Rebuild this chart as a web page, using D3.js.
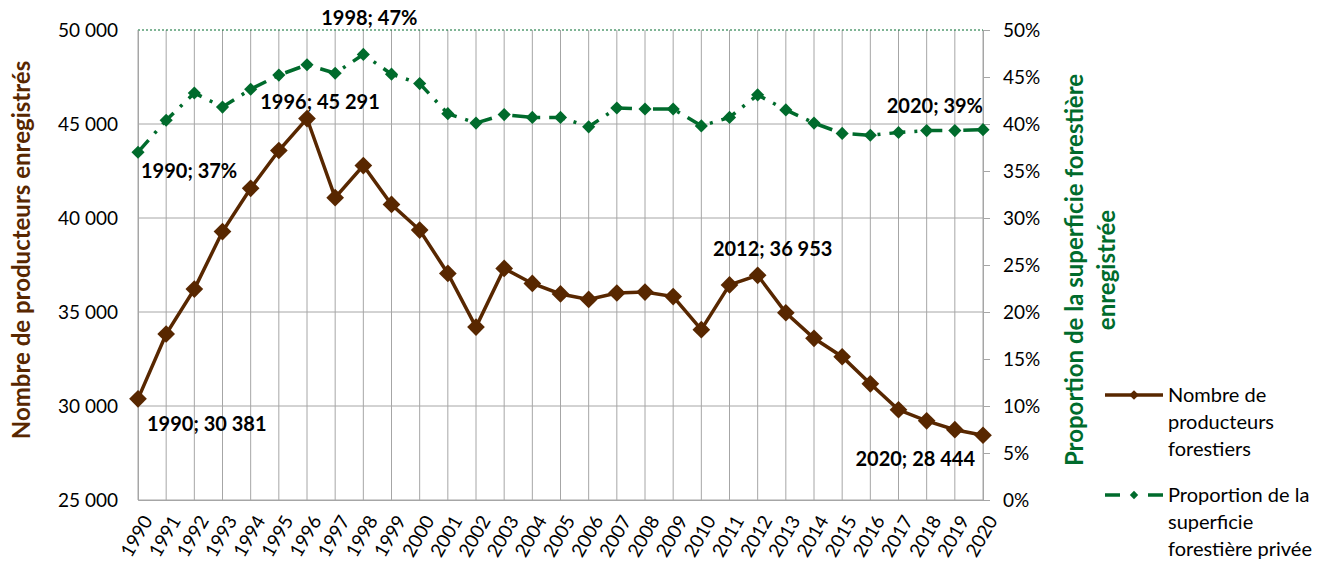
<!DOCTYPE html>
<html>
<head>
<meta charset="utf-8">
<script src="https://cdn.jsdelivr.net/npm/d3@7"></script>
<style>
  body { margin: 0; background: #fff; }
  text { font-family: Lato, "Open Sans", sans-serif; }
</style>
</head>
<body>
<script>
(function(d3) {

  // Years on the x axis
  var years = d3.range(1990, 2021);

  // Nombre de producteurs forestiers (left axis)
  var producteurs = [30381, 33830, 36220, 39280, 41580, 43590, 45291, 41080, 42790, 40720,
    39360, 37050, 34200, 37320, 36520, 35960, 35670, 36010, 36060, 35820,
    34060, 36440, 36953, 34960, 33600, 32620, 31180, 29800, 29210, 28740, 28444];

  // Proportion de la superficie forestiere privee (right axis, %)
  var proportion = [37.0, 40.4, 43.3, 41.8, 43.7, 45.2, 46.3, 45.4, 47.4, 45.3,
    44.3, 41.1, 40.1, 41.0, 40.7, 40.7, 39.7, 41.7, 41.6, 41.6,
    39.8, 40.7, 43.1, 41.5, 40.1, 39.0, 38.8, 39.1, 39.3, 39.3, 39.4];

  var leftTicks = [25000, 30000, 35000, 40000, 45000, 50000];
  var rightTicks = d3.range(0, 51, 5);

  // Data labels: which series, which year, where to put the text
  var labels = [
    {series: 'p', year: 1990, dx: 9, dy: 32, anchor: 'start'},
    {series: 'p', year: 1996, dx: 13, dy: -10, anchor: 'middle'},
    {series: 'p', year: 2012, dx: 15, dy: -19, anchor: 'middle'},
    {series: 'p', year: 2020, dx: -8, dy: 31, anchor: 'end'},
    {series: 's', year: 1990, dx: 3, dy: 26, anchor: 'start'},
    {series: 's', year: 1998, dx: 6, dy: -29, anchor: 'middle'},
    {series: 's', year: 2020, dx: 0, dy: -17, anchor: 'end'}
  ];

  var brown = '#582700', green = '#006b2c', grid = '#a6a6a6';

  var width = 1334, height = 567;
  var m = {left: 138, right: 983, top: 30, bottom: 500};

  var fr = d3.formatLocale({decimal: ',', thousands: '\u00a0', grouping: [3], currency: ['', '$']});
  var fmt = fr.format(',d');

  var svg = d3.select('body').append('svg')
    .attr('width', width)
    .attr('height', height);

  var x = d3.scaleLinear().domain([1990, 2020]).range([m.left, m.right]);
  var yL = d3.scaleLinear().domain([25000, 50000]).range([m.bottom, m.top]);
  var yR = d3.scaleLinear().domain([0, 50]).range([m.bottom, m.top]);

  // Gridlines
  svg.append('g').selectAll('line').data(years).enter().append('line')
    .attr('x1', function(d) { return x(d); })
    .attr('x2', function(d) { return x(d); })
    .attr('y1', m.top).attr('y2', m.bottom)
    .attr('stroke', grid).attr('stroke-width', 1);

  svg.append('g').selectAll('line').data(leftTicks.slice(0, -1)).enter().append('line')
    .attr('x1', m.left).attr('x2', m.right)
    .attr('y1', function(d) { return yL(d); })
    .attr('y2', function(d) { return yL(d); })
    .attr('stroke', grid).attr('stroke-width', 1);

  // top border, dotted green
  svg.append('line')
    .attr('x1', m.left).attr('x2', m.right)
    .attr('y1', m.top).attr('y2', m.top)
    .attr('stroke', green).attr('stroke-width', 1)
    .attr('stroke-dasharray', '2,2');

  // Left axis
  var axL = svg.append('g')
    .attr('transform', 'translate(' + m.left + ',0)')
    .call(d3.axisLeft(yL).tickValues(leftTicks).tickSize(0).tickPadding(20).tickFormat(fmt));
  axL.select('.domain').attr('stroke', grid);
  axL.selectAll('text').attr('font-size', 19).attr('fill', '#000');

  // Right axis
  var axR = svg.append('g')
    .attr('transform', 'translate(' + m.right + ',0)')
    .call(d3.axisRight(yR).tickValues(rightTicks).tickSize(7).tickPadding(13)
      .tickFormat(function(d) { return d + '%'; }));
  axR.select('.domain').attr('stroke', grid);
  axR.selectAll('line').attr('stroke', grid);
  axR.selectAll('text').attr('font-size', 19).attr('fill', '#000');

  // Bottom axis
  var axB = svg.append('g')
    .attr('transform', 'translate(0,' + m.bottom + ')')
    .call(d3.axisBottom(x).tickValues(years).tickSize(0).tickFormat(d3.format('d')));
  axB.select('.domain').attr('stroke', grid);
  axB.selectAll('text')
    .attr('font-size', 19)
    .attr('fill', '#000')
    .attr('text-anchor', 'end')
    .attr('transform', 'translate(9,17) rotate(-60)')
    .attr('dy', '0.35em')
    .attr('y', 0);

  // Series
  var diamond = d3.symbol().type(d3.symbolDiamond2);

  var lineP = d3.line()
    .x(function(d, i) { return x(years[i]); })
    .y(function(d) { return yL(d); });
  var lineS = d3.line()
    .x(function(d, i) { return x(years[i]); })
    .y(function(d) { return yR(d); });

  svg.append('path').datum(proportion)
    .attr('d', lineS)
    .attr('fill', 'none').attr('stroke', green).attr('stroke-width', 3.5)
    .attr('stroke-dasharray', '16,9,3,9');

  svg.append('g').selectAll('path').data(proportion).enter().append('path')
    .attr('transform', function(d, i) { return 'translate(' + x(years[i]) + ',' + yR(d) + ')'; })
    .attr('d', diamond.size(110))
    .attr('fill', green);

  svg.append('path').datum(producteurs)
    .attr('d', lineP)
    .attr('fill', 'none').attr('stroke', brown).attr('stroke-width', 3.5);

  svg.append('g').selectAll('path').data(producteurs).enter().append('path')
    .attr('transform', function(d, i) { return 'translate(' + x(years[i]) + ',' + yL(d) + ')'; })
    .attr('d', diamond.size(200))
    .attr('fill', brown);

  // Data labels
  svg.append('g').selectAll('text').data(labels).enter().append('text')
    .attr('x', function(d) { return x(d.year) + d.dx; })
    .attr('y', function(d) {
      var i = years.indexOf(d.year);
      return (d.series === 'p' ? yL(producteurs[i]) : yR(proportion[i])) + d.dy;
    })
    .attr('text-anchor', function(d) { return d.anchor; })
    .attr('font-size', 20).attr('font-weight', 'bold').attr('fill', '#000')
    .text(function(d) {
      var i = years.indexOf(d.year);
      return d.year + '; ' + (d.series === 'p' ? fmt(producteurs[i]) : Math.round(proportion[i]) + '%');
    });

  // Axis titles
  svg.append('text')
    .attr('transform', 'translate(30,250) rotate(-90)')
    .attr('text-anchor', 'middle')
    .attr('font-size', 24).attr('font-weight', 'bold').attr('fill', brown)
    .text('Nombre de producteurs enregistrés');

  var rt = svg.append('text')
    .attr('transform', 'translate(1083,270) rotate(-90)')
    .attr('text-anchor', 'middle')
    .attr('font-size', 24).attr('font-weight', 'bold').attr('fill', green);
  rt.append('tspan').attr('x', 0).attr('dy', 0).text('Proportion de la superficie forestière');
  rt.append('tspan').attr('x', 0).attr('dy', 32).text('enregistrée');

  // Legend
  var legend = [
    {name: ['Nombre de', 'producteurs', 'forestiers'], color: brown, dash: null, size: 60, y: 395},
    {name: ['Proportion de la', 'superficie', 'forestière privée'], color: green, dash: '15,28', size: 45, y: 495}
  ];
  var lg = svg.append('g').selectAll('g').data(legend).enter().append('g')
    .attr('transform', function(d) { return 'translate(1105,' + d.y + ')'; });
  lg.append('line')
    .attr('x1', 0).attr('x2', 58)
    .attr('stroke', function(d) { return d.color; })
    .attr('stroke-width', 3.5)
    .attr('stroke-dasharray', function(d) { return d.dash; });
  lg.append('path')
    .attr('transform', 'translate(29,0)')
    .attr('d', function(d) { return diamond.size(d.size)(); })
    .attr('fill', function(d) { return d.color; });
  lg.append('text')
    .attr('x', 63).attr('y', 0)
    .attr('font-size', 20).attr('fill', '#000')
    .selectAll('tspan').data(function(d) { return d.name; }).enter().append('tspan')
    .attr('x', 63)
    .attr('dy', function(d, i) { return i === 0 ? '0.35em' : 27; })
    .text(function(d) { return d; });

})(d3);
</script>
</body>
</html>
